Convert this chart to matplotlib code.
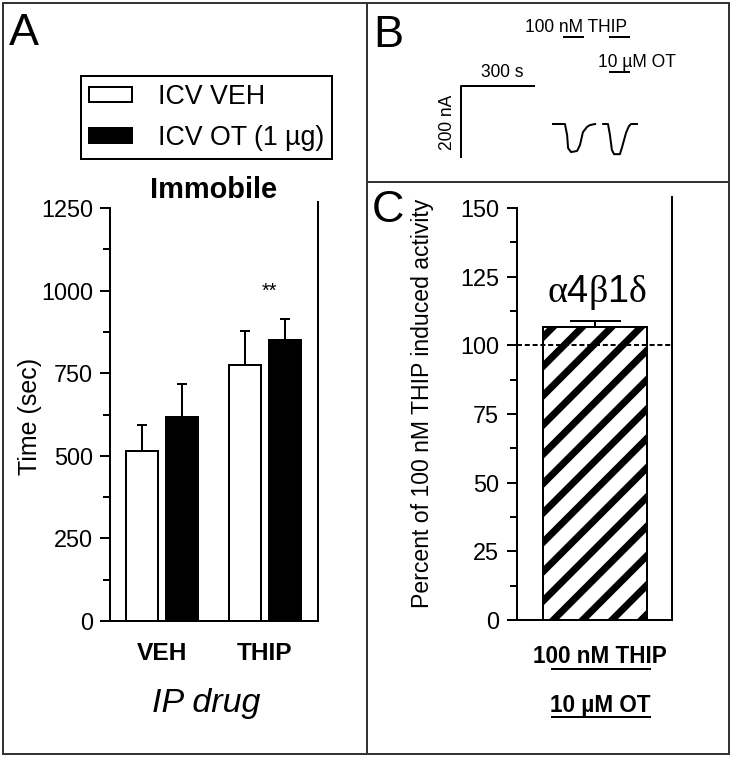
import matplotlib.pyplot as plt
from matplotlib.ticker import MultipleLocator
from matplotlib.lines import Line2D
from matplotlib.patches import Rectangle
import numpy as np

# Panel A: immobility time (sec), mean and SEM
ip_drugs = ['VEH', 'THIP']
icv_labels = ['ICV VEH', 'ICV OT (1 µg)']
veh_mean = [514, 776]
veh_sem = [79, 101]
ot_mean = [616, 850]
ot_sem = [100, 65]

# Panel B: example current traces (time in s, current in nA)
trace1_t = [0, 49, 58, 62, 74, 99, 111, 123, 140, 152, 173]
trace1_i = [0, 0, -31, -68, -79, -76, -59, -23, -8, -3, 0]
trace2_t = [206, 226, 234, 242, 251, 275, 284, 300, 312, 321, 345]
trace2_i = [0, 0, -31, -73, -85, -85, -65, -25, -6, 0, 0]
thip_windows = [(45, 123), (234, 312)]
ot_windows = [(234, 312)]
scale_t = 300
scale_i = 200

# Panel C: percent of 100 nM THIP induced activity
c_labels = ['α4β1δ']
c_mean = [106.5]
c_sem = [2.2]

# dpi chosen so the hatch spacing matches the original
W, H, DPI = 733, 758, 88


def fx(x):
    return x / W


def fy(y):
    return 1 - y / H


def pt(px):
    # pixels -> points
    return px * 72 / DPI


plt.rcParams['font.family'] = ['Liberation Sans', 'DejaVu Sans']
plt.rcParams['mathtext.fontset'] = 'custom'
plt.rcParams['mathtext.rm'] = 'Liberation Serif'
plt.rcParams['hatch.linewidth'] = pt(7)
plt.rcParams['hatch.color'] = 'black'

fig = plt.figure(figsize=(W / DPI, H / DPI), dpi=DPI)
ek = dict(ecolor='black', elinewidth=pt(2), capthick=pt(2))
tick_fs = pt(23.5)

# ---------------- Panel A ----------------
axA = fig.add_axes([fx(110), fy(621), (318 - 110) / W, (621 - 208) / H])
x = np.arange(len(ip_drugs))
off, bw = 0.195, 0.31
barsVeh = axA.bar(x - off, veh_mean, bw, color='white', edgecolor='black', lw=pt(2),
                  yerr=[np.zeros(len(x)), veh_sem], capsize=pt(5), error_kw=ek)
barsOt = axA.bar(x + off, ot_mean, bw, color='black', edgecolor='black', lw=pt(2),
                 yerr=[np.zeros(len(x)), ot_sem], capsize=pt(5), error_kw=ek)
axA.set_xlim(-0.505, 1.515)
axA.set_ylim(0, 1250)
axA.yaxis.set_major_locator(MultipleLocator(250))
axA.yaxis.set_minor_locator(MultipleLocator(125))
axA.tick_params(axis='y', which='major', length=pt(10), width=pt(2), pad=pt(7), labelsize=tick_fs)
axA.tick_params(axis='y', which='minor', length=pt(7), width=pt(2))
axA.set_xticks(x, ip_drugs, fontweight='bold', fontsize=pt(24.5))
axA.tick_params(axis='x', length=0, pad=pt(21))
axA.spines['top'].set_visible(False)
axA.spines['right'].set_bounds(0, 1268)
for s in axA.spines.values():
    s.set_linewidth(pt(2))
axA.text(1.04, 999, '**', ha='center', va='center', fontsize=pt(20))

fig.text(fx(206), fy(712), 'IP drug', ha='center', va='baseline', fontsize=pt(34), style='italic')
fig.text(fx(30), fy(416), 'Time (sec)', ha='center', va='center', rotation=90, fontsize=pt(25))
fig.text(fx(214), fy(198), 'Immobile', ha='center', va='baseline', fontsize=pt(29), fontweight='bold')

leg = fig.legend([barsVeh, barsOt], icv_labels, loc='upper left',
                 bbox_to_anchor=(fx(81), fy(76)), bbox_transform=fig.transFigure,
                 fancybox=False, edgecolor='black', framealpha=1, fontsize=pt(26.7),
                 handlelength=1.61, handleheight=0.49, handletextpad=0.97,
                 labelspacing=0.55, borderpad=0.3, borderaxespad=0)
leg.get_frame().set_linewidth(pt(2))

# ---------------- Panel B ----------------
S = 300 / 73   # s per px
A = 200 / 71   # nA per px
axB = fig.add_axes([fx(367), fy(182), (729 - 367) / W, (182 - 3) / H])
axB.set_xlim((367 - 553) * S, (729 - 553) * S)
axB.set_ylim((124 - 182) * A, (124 - 3) * A)
axB.axis('off')
axB.plot(trace1_t, trace1_i, color='black', lw=pt(2))
axB.plot(trace2_t, trace2_i, color='black', lw=pt(2))
t0, i0 = (461 - 553) * S, (124 - 86) * A
axB.plot([t0 + scale_t, t0, t0], [i0, i0, i0 - scale_i], color='black', lw=pt(2))
for a, b in thip_windows:
    axB.plot([a, b], [(124 - 37) * A] * 2, color='black', lw=pt(2))
for a, b in ot_windows:
    axB.plot([a, b], [(124 - 72) * A] * 2, color='black', lw=pt(2))

fsB = pt(17.5)
fig.text(fx(525), fy(32), '100 nM THIP', ha='left', va='baseline', fontsize=fsB)
fig.text(fx(598), fy(67), '10 µM OT', ha='left', va='baseline', fontsize=fsB)
fig.text(fx(502), fy(77), '300 s', ha='center', va='baseline', fontsize=fsB)
fig.text(fx(448), fy(122), '200 nA', ha='center', va='center', rotation=90, fontsize=fsB)

# ---------------- Panel C ----------------
axC = fig.add_axes([fx(517), fy(620), (672 - 517) / W, (620 - 208) / H])
axC.bar([0], c_mean, 1.0, color='white', edgecolor='black', hatch='/', lw=pt(2),
        yerr=[[0], c_sem], capsize=pt(25.5), error_kw=ek)
axC.axhline(100, color='black', lw=pt(2), ls=(0, (2.5, 1.4)), zorder=5)
axC.set_xlim(-0.75, 0.74)
axC.set_ylim(0, 150)
axC.set_xticks([])
axC.yaxis.set_major_locator(MultipleLocator(25))
axC.yaxis.set_minor_locator(MultipleLocator(12.5))
axC.tick_params(axis='y', which='major', length=pt(10), width=pt(2), pad=pt(8), labelsize=tick_fs)
axC.tick_params(axis='y', which='minor', length=pt(7), width=pt(2))
axC.spines['top'].set_visible(False)
axC.spines['right'].set_bounds(0, 154)
for s in axC.spines.values():
    s.set_linewidth(pt(2))

fig.text(fx(597), fy(302), r'$\mathrm{\alpha}$4$\mathrm{\beta}$1$\mathrm{\delta}$',
         ha='center', va='baseline', fontsize=pt(38))
fig.text(fx(423), fy(403), 'Percent of 100 nM THIP induced activity', ha='center',
         va='center', rotation=90, fontsize=pt(23))
fig.text(fx(600), fy(663), '100 nM THIP', ha='center', va='baseline', fontsize=pt(22.5), fontweight='bold')
fig.text(fx(600), fy(712), '10 µM OT', ha='center', va='baseline', fontsize=pt(22.5), fontweight='bold')
for yy in (669, 717):
    fig.add_artist(Line2D([fx(552), fx(650)], [fy(yy), fy(yy)], color='black', lw=pt(2)))

# ---------------- panel letters and frame ----------------
fig.text(fx(9), fy(45), 'A', ha='left', va='baseline', fontsize=pt(45))
fig.text(fx(373), fy(47), 'B', ha='left', va='baseline', fontsize=pt(45))
fig.text(fx(372), fy(222), 'C', ha='left', va='baseline', fontsize=pt(45))

border = '#333333'
fig.add_artist(Rectangle((fx(3), fy(754)), (729 - 3) / W, (754 - 3) / H, transform=fig.transFigure,
                         fill=False, edgecolor=border, lw=pt(2)))
fig.add_artist(Line2D([fx(367), fx(367)], [fy(3), fy(754)], color=border, lw=pt(2)))
fig.add_artist(Line2D([fx(367), fx(729)], [fy(182), fy(182)], color=border, lw=pt(2)))

fig.savefig('out.png', dpi=DPI)
